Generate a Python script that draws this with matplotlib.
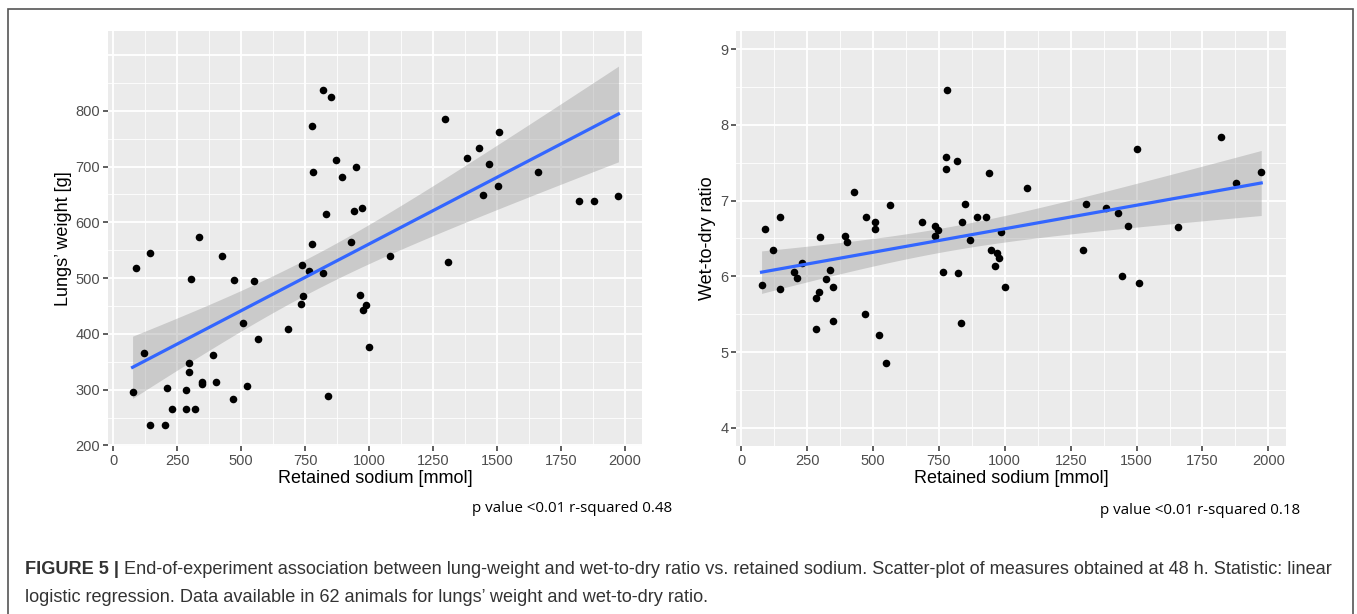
import numpy as np
import matplotlib
matplotlib.use('Agg')
import matplotlib.pyplot as plt
from matplotlib.patches import Rectangle

# retained sodium [mmol] and lungs' weight [g], left panel
sodium_a = [76, 89, 122, 145, 145, 201, 211, 230, 283, 285, 295, 296, 303, 321, 337,
            349, 349, 392, 402, 426, 469, 474, 509, 523, 550, 568, 685, 736, 739, 744,
            765, 777, 777, 780, 820, 821, 833, 838, 851, 871, 895, 928, 942, 950, 963,
            971, 976, 988, 1002, 1083, 1297, 1309, 1383, 1429, 1447, 1470, 1505, 1509,
            1659, 1822, 1880, 1975]
lungs_weight = [296, 518, 366, 545, 237, 236, 303, 265, 300, 266, 347, 331, 499, 265, 573,
                314, 311, 363, 313, 539, 283, 496, 419, 307, 494, 391, 409, 454, 523, 468,
                513, 562, 772, 691, 837, 510, 615, 288, 824, 711, 681, 565, 620, 700, 470,
                626, 442, 451, 377, 540, 785, 528, 715, 733, 649, 704, 666, 762,
                690, 639, 638, 647]

# retained sodium [mmol] and wet-to-dry ratio, right panel
sodium_b = [77, 89, 121, 147, 147, 201, 211, 231, 285, 285, 295, 297, 322, 337, 349,
            349, 392, 402, 426, 469, 474, 507, 509, 523, 549, 566, 684, 735, 737, 745,
            766, 777, 777, 780, 818, 821, 833, 837, 850, 869, 895, 930, 939, 949, 962,
            971, 978, 987, 1000, 1083, 1295, 1308, 1383, 1428, 1445, 1469, 1502, 1509,
            1659, 1820, 1877, 1973]
wet_dry = [5.89, 6.63, 6.35, 6.79, 5.83, 6.06, 5.98, 6.18, 5.71, 5.31, 5.79, 6.52, 5.96, 6.09, 5.86,
           5.41, 6.53, 6.45, 7.12, 5.50, 6.79, 6.72, 6.62, 5.23, 4.86, 6.94, 6.72, 6.66, 6.53, 6.61,
           6.06, 7.57, 7.42, 8.46, 7.52, 6.05, 5.38, 6.72, 6.96, 6.48, 6.79, 6.79, 7.37, 6.35, 6.14,
           6.31, 6.24, 6.58, 5.86, 7.17, 6.35, 6.95, 6.90, 6.84, 6.01, 6.66, 7.68, 5.91,
           6.65, 7.84, 7.23, 7.38]

x_ticks = [0, 250, 500, 750, 1000, 1250, 1500, 1750, 2000]
x_minor = [125, 375, 625, 875, 1125, 1375, 1625, 1875]
y_ticks_a = [200, 300, 400, 500, 600, 700, 800]
y_minor_a = [250, 350, 450, 550, 650, 750, 850]
y_ticks_b = [4, 5, 6, 7, 8, 9]
y_minor_b = [4.5, 5.5, 6.5, 7.5, 8.5]

stats_a = 'p value <0.01 r-squared 0.48'
stats_b = 'p value <0.01 r-squared 0.18'
caption_bold = 'FIGURE 5 |'
caption_1 = (' End-of-experiment association between lung-weight and wet-to-dry ratio vs. '
             'retained sodium. Scatter-plot of measures obtained at 48 h. Statistic: linear')
caption_2 = ('logistic regression. Data available in 62 animals for lungs\u2019 weight and '
             'wet-to-dry ratio.')

plt.rcParams['font.family'] = ['Liberation Sans', 'DejaVu Sans']


def lm_band(x, y, n=80, t=2.0003):
    # ordinary least squares with 95% confidence band, like geom_smooth(method='lm')
    x = np.asarray(x, float)
    y = np.asarray(y, float)
    b, a = np.polyfit(x, y, 1)
    resid = y - (a + b * x)
    s = np.sqrt(np.sum(resid ** 2) / (len(x) - 2))
    xs = np.linspace(x.min(), x.max(), n)
    se = s * np.sqrt(1 / len(x) + (xs - x.mean()) ** 2 / np.sum((x - x.mean()) ** 2))
    fit = a + b * xs
    return xs, fit, fit - t * se, fit + t * se


def gg_panel(ax, x, y, yticks, yminor, ylim, ylabel, extra_grid=()):
    ax.set_facecolor('#EBEBEB')
    for s in ax.spines.values():
        s.set_visible(False)
    ax.set_xticks(x_ticks)
    ax.set_xticks(x_minor, minor=True)
    ax.set_yticks(yticks)
    ax.set_yticks(yminor, minor=True)
    ax.grid(which='major', color='white', lw=1.3)
    ax.grid(which='minor', color='white', lw=0.6)
    for g in extra_grid:
        ax.axhline(g, color='white', lw=1.3, zorder=0.5)
    ax.set_axisbelow(True)
    ax.tick_params(which='major', length=3.5, width=1.1, color='#333333',
                   labelcolor='#4D4D4D', labelsize=10.5, pad=2)
    ax.tick_params(which='minor', length=0)
    xs, fit, lo, hi = lm_band(x, y)
    ax.fill_between(xs, lo, hi, color='#999999', alpha=0.4, lw=0, zorder=2)
    ax.scatter(x, y, s=30, color='black', lw=0, zorder=3)
    ax.plot(xs, fit, color='#3366FF', lw=2.3, zorder=4)
    ax.set_xlim(-20, 2067)
    ax.set_ylim(*ylim)
    ax.set_xlabel('Retained sodium [mmol]', fontsize=13, labelpad=2)
    ax.set_ylabel(ylabel, fontsize=13, labelpad=3)


fig = plt.figure(figsize=(13.57, 6.14), dpi=100)

ax1 = fig.add_axes([108 / 1357, 1 - 446 / 614, 534 / 1357, 415 / 614])
gg_panel(ax1, sodium_a, lungs_weight, y_ticks_a, y_minor_a, (199, 943),
         'Lungs\u2019 weight [g]', extra_grid=(900,))

ax2 = fig.add_axes([736 / 1357, 1 - 446 / 614, 550 / 1357, 415 / 614])
gg_panel(ax2, sodium_b, wet_dry, y_ticks_b, y_minor_b, (3.76, 9.24), 'Wet-to-dry ratio')

fig.text(572 / 1357, 1 - 509 / 614, stats_a, ha='center', va='center',
         fontsize=10.9, family=['Open Sans', 'DejaVu Sans'])
fig.text(1200 / 1357, 1 - 511 / 614, stats_b, ha='center', va='center',
         fontsize=10.9, family=['Open Sans', 'DejaVu Sans'])

# caption, bold figure number followed by regular text
over = fig.add_axes([0, 0, 1, 1], facecolor='none')
over.set_axis_off()
t1 = over.text(25 / 1357, 1 - 569 / 614, caption_bold, fontsize=13.1, fontweight='bold',
               color='#333333', va='center', transform=fig.transFigure)
over.annotate(caption_1, xy=(1, 0), xycoords=t1, va='bottom', fontsize=13.1,
              color='#333333')
over.text(25 / 1357, 1 - 597 / 614, caption_2, fontsize=13.1, color='#333333',
          va='center', transform=fig.transFigure)

fig.add_artist(Rectangle((8 / 1357, -0.05), 1345 / 1357, 1.05 - 9 / 614,
                         transform=fig.transFigure, fill=False, ec='#555555', lw=1.2))

fig.savefig('out.png', dpi=100)
